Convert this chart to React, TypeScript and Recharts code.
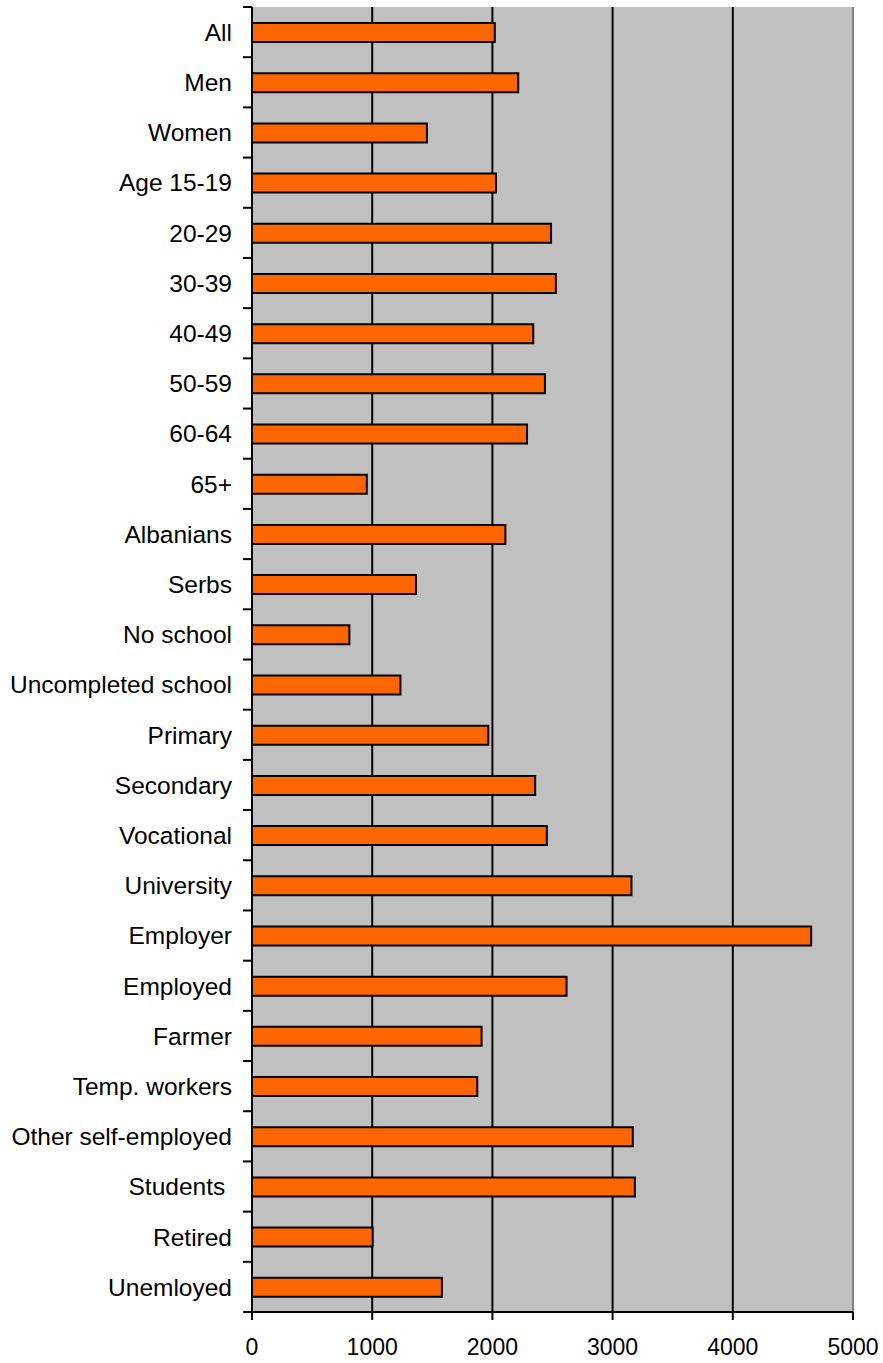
import { BarChart, Bar, XAxis, YAxis, CartesianGrid, ReferenceLine } from 'recharts';

// Categories (top to bottom) and their values
const categories = [
  'All', 'Men', 'Women', 'Age 15-19', '20-29', '30-39', '40-49', '50-59', '60-64', '65+',
  'Albanians', 'Serbs', 'No school', 'Uncompleted school', 'Primary', 'Secondary',
  'Vocational', 'University', 'Employer', 'Employed', 'Farmer', 'Temp. workers',
  'Other self-employed', 'Students ', 'Retired', 'Unemloyed',
];
const values = [
  2020, 2215, 1455, 2030, 2488, 2528, 2340, 2437, 2288, 955,
  2108, 1364, 810, 1235, 1966, 2356, 2453, 3157, 4652, 2617,
  1910, 1874, 3168, 3185, 1004, 1580,
];
const xTicks = [0, 1000, 2000, 3000, 4000, 5000];

const data = categories.map((name, i) => ({ name, value: values[i] }));

const WIDTH = 883;
const HEIGHT = 1363;
const MARGIN = { top: 7, right: 30, left: 0, bottom: 0 };
const X_AXIS_HEIGHT = 51;
const BAND = (HEIGHT - MARGIN.top - MARGIN.bottom - X_AXIS_HEIGHT) / categories.length;
const FONT = '"Liberation Sans", Arial, sans-serif';

/**
 * Category label with Excel-style tick marks between categories
 */
const CategoryTick = (props: any) => {
  const { x, y, payload, index } = props;
  const lineX1 = x + 11;
  const lineX2 = x + 20;
  return (
    <g>
      <line x1={lineX1} x2={lineX2} y1={y - BAND / 2} y2={y - BAND / 2} stroke="#000" strokeWidth={2} />
      {index === categories.length - 1 && (
        <line x1={lineX1} x2={lineX2} y1={y + BAND / 2} y2={y + BAND / 2} stroke="#000" strokeWidth={2} />
      )}
      <text
        x={x}
        y={y}
        dy="0.36em"
        textAnchor="end"
        fill="#000"
        fontSize={24.5}
        fontFamily={FONT}
        style={{ whiteSpace: 'pre' }}
      >
        {payload.value}
      </text>
    </g>
  );
};

export default function App() {
  return (
    <div style={{ position: 'absolute', left: 0, top: 0, width: WIDTH, height: HEIGHT, background: '#fff' }}>
      <BarChart width={WIDTH} height={HEIGHT} data={data} layout="vertical" margin={MARGIN} barCategoryGap={0}>
        <CartesianGrid horizontal={false} stroke="#000" strokeWidth={2} fill="#C0C0C0" fillOpacity={1} />
        <XAxis
          type="number"
          dataKey="value"
          domain={[0, 5000]}
          ticks={xTicks}
          interval={0}
          height={X_AXIS_HEIGHT}
          axisLine={{ stroke: '#000', strokeWidth: 2 }}
          tickLine={{ stroke: '#000', strokeWidth: 2 }}
          tickSize={8}
          tickMargin={19}
          tick={{ fill: '#000', fontSize: 23, fontFamily: FONT }}
        />
        <XAxis
          xAxisId="top"
          orientation="top"
          type="number"
          domain={[0, 5000]}
          height={0}
          tick={false}
          tickLine={false}
          axisLine={{ stroke: '#808080', strokeWidth: 2 }}
        />
        <YAxis
          type="category"
          dataKey="name"
          width={252}
          interval={0}
          axisLine={{ stroke: '#000', strokeWidth: 2 }}
          tickLine={false}
          tickSize={9}
          tickMargin={11}
          tick={<CategoryTick />}
        />
        <ReferenceLine x={5000} stroke="#808080" strokeWidth={2} />
        <Bar
          dataKey="value"
          fill="#FF6600"
          stroke="#000"
          strokeWidth={2}
          barSize={19}
          isAnimationActive={false}
        />
      </BarChart>
    </div>
  );
}
